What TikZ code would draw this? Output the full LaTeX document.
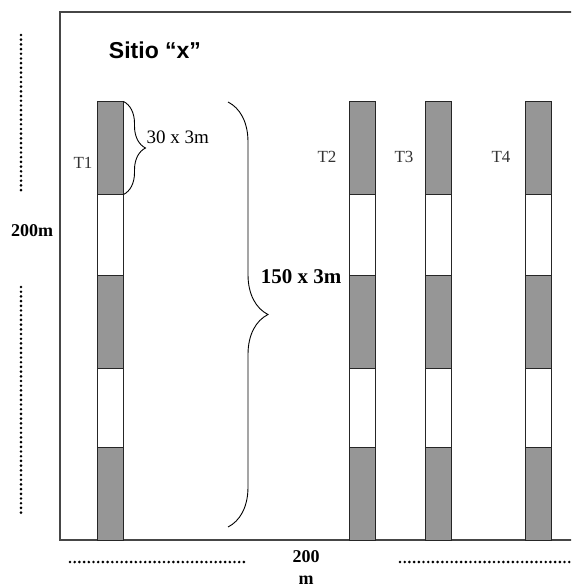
\documentclass[tikz,border=0pt]{standalone}
\usepackage{fontspec}
\setmainfont{Liberation Serif}
\newfontfamily\titlefont{Liberation Sans}
\usepackage{xcolor}
\usepackage{tikz}
\usetikzlibrary{positioning,decorations.pathreplacing}
\definecolor{plotgray}{RGB}{150,150,150}
\definecolor{framegray}{RGB}{70,70,70}

\begin{document}
\begin{tikzpicture}[
  x=1pt,y=-1pt,
  seg/.style={draw=black!85,line width=1pt,inner sep=0pt,minimum width=26pt},
  full/.style={seg,fill=plotgray},
  empty/.style={seg,fill=white},
  lab/.style={font=\fontsize{17}{19}\selectfont,text=black!80},
  dim/.style={font=\bfseries\fontsize{18}{22}\selectfont,align=center},
  brace/.style={decorate,line width=0.9pt},
  dots/.style={line width=2.9pt,line cap=round,dash pattern=on 0pt off 4.7pt},
]
\useasboundingbox (0,0) rectangle (571,588);
\clip (0,0) rectangle (571,588);
% site frame (runs off to the right)
\draw[framegray,line width=1.4pt] (590,12) -- (60,12) -- (60,540) -- (590,540);
\node[font=\titlefont\bfseries\fontsize{23}{26}\selectfont] (title) at (155,50) {Sitio “x”};
% transects: 5 segments each, 30 x 3m plots alternating
\foreach \x/\n in {110/1,362/2,438/3,538.5/4}{
  \foreach \y/\h/\st/\s in {148/92/full/a,234.5/81/empty/b,321.5/93/full/c,407.5/79/empty/d,493.5/93/full/e}{
    \node[\st,minimum height=\h pt] (t\n\s) at (\x,\y) {};
  }
}
\node[lab,anchor=east] (lt1) at (96,163) {T1};
\node[lab] (lt2) at (327,157) {T2};
\node[lab] (lt3) at (404,157) {T3};
\node[lab] (lt4) at (501,157) {T4};
% braces
\draw[brace,decoration={brace,amplitude=22pt}] (t1a.north east) -- (t1a.south east);
\node[lab,text=black,anchor=west,font=\fontsize{19}{21}\selectfont] (plot) at (143,137) {30 x 3m};
\coordinate (bigtop) at (228,102);
\coordinate (bigbot) at (228,527);
\draw[brace,decoration={brace,amplitude=40pt}] (bigtop) -- (bigbot);
\node[dim,font=\bfseries\fontsize{21}{24}\selectfont] (trans) at (301,277) {150 x 3m};
% site dimensions
\draw[dots] (21,35) -- (21,193);
\draw[dots] (21,287) -- (21,513);
\node[dim] (side) at (32,231) {200m};
\draw[dots] (70,562) -- (248,562);
\draw[dots] (400,562) -- (571,562);
\node[dim] (base) at (306,568) {200\\m};
\end{tikzpicture}
\end{document}
